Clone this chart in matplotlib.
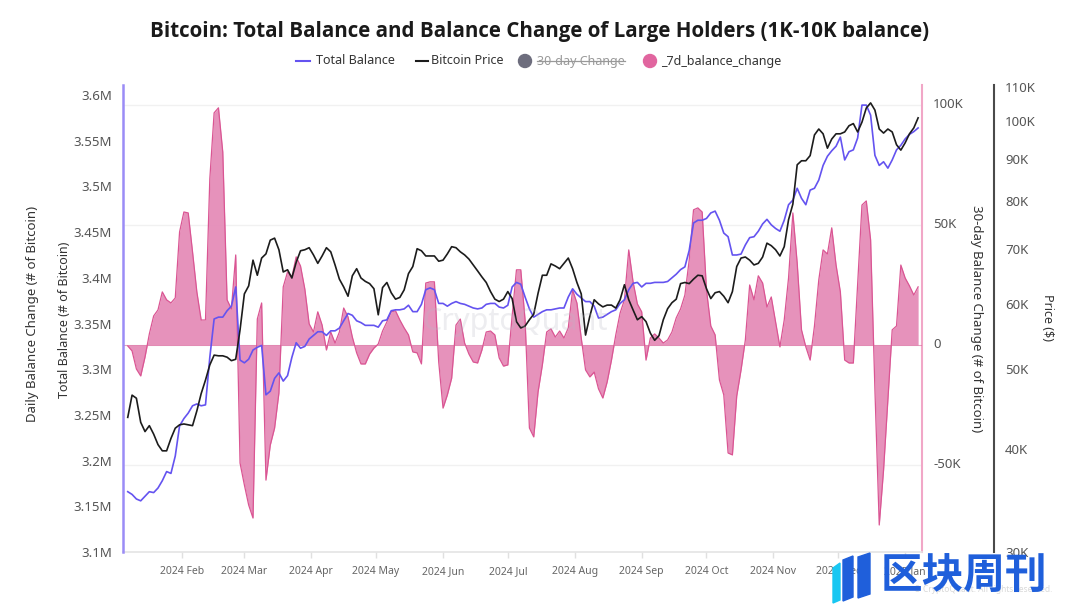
import matplotlib
matplotlib.use('Agg')
import matplotlib.pyplot as plt
import matplotlib.ticker as mticker
from matplotlib.lines import Line2D
from matplotlib.patches import Circle, Polygon
from matplotlib.transforms import IdentityTransform
import numpy as np
import pandas as pd

plt.rcParams['font.family'] = ['Noto Sans', 'DejaVu Sans']

# ---------------- data (one value every 2 days) ----------------
start_date = '2024-01-07'
step = '2D'

price_k = [
    43.7, 46.5, 46.1, 43.1, 42.0, 42.7, 41.7, 40.5, 39.8, 39.8,
    41.2, 42.4, 42.8, 42.9, 42.8, 42.7, 44.5, 46.7, 48.5, 50.6,
    52.0, 51.9, 51.9, 51.7, 51.2, 51.4, 55.8, 61.7, 63.1, 67.8,
    65.0, 68.2, 69.0, 71.7, 72.1, 69.8, 65.6, 66.0, 64.5, 67.4,
    69.6, 69.8, 70.2, 68.8, 67.2, 68.6, 70.2, 69.4, 66.9, 64.3,
    62.9, 61.3, 64.9, 66.2, 64.5, 63.9, 63.5, 62.6, 58.2, 62.8,
    63.7, 61.9, 60.8, 61.1, 62.4, 65.3, 66.6, 70.0, 69.6, 68.6,
    68.6, 68.6, 67.6, 67.8, 69.0, 70.4, 70.2, 69.4, 68.8, 68.0,
    66.9, 65.8, 64.7, 63.7, 62.1, 60.8, 60.4, 60.8, 62.1, 60.9,
    57.1, 56.1, 56.4, 57.4, 58.3, 61.8, 65.0, 65.0, 67.1, 66.7,
    66.2, 67.2, 68.2, 66.2, 63.7, 61.7, 55.0, 58.0, 60.7, 60.0,
    59.5, 59.8, 59.8, 59.3, 60.7, 63.3, 60.7, 59.0, 57.4, 57.9,
    57.1, 55.3, 54.2, 54.9, 57.4, 59.2, 60.2, 60.8, 63.5, 63.7,
    63.5, 64.3, 65.0, 64.9, 62.6, 60.9, 61.9, 62.1, 61.3, 60.2,
    62.1, 66.6, 68.2, 68.4, 67.8, 66.9, 67.2, 68.4, 71.1, 70.6,
    69.8, 68.6, 70.4, 75.9, 79.3, 88.5, 89.5, 89.5, 90.8, 96.2,
    97.8, 96.5, 92.7, 95.1, 96.5, 96.5, 97.0, 98.7, 99.3, 97.0,
    99.7, 103.7, 105.2, 103.1, 97.8, 96.7, 97.8, 97.0, 93.6, 92.2,
    94.1, 96.5, 98.1, 100.9,
]

balance_m = [
    3.166, 3.163, 3.158, 3.156, 3.161, 3.166, 3.165, 3.170, 3.178, 3.188,
    3.186, 3.205, 3.238, 3.246, 3.252, 3.260, 3.262, 3.260, 3.261, 3.313,
    3.355, 3.357, 3.357, 3.364, 3.369, 3.390, 3.310, 3.307, 3.311, 3.321,
    3.324, 3.326, 3.272, 3.276, 3.290, 3.296, 3.287, 3.293, 3.313, 3.329,
    3.323, 3.325, 3.333, 3.337, 3.341, 3.341, 3.337, 3.342, 3.342, 3.345,
    3.353, 3.361, 3.359, 3.353, 3.351, 3.348, 3.348, 3.348, 3.346, 3.353,
    3.354, 3.364, 3.365, 3.365, 3.366, 3.370, 3.363, 3.363, 3.371, 3.387,
    3.389, 3.387, 3.372, 3.372, 3.369, 3.372, 3.374, 3.372, 3.371, 3.369,
    3.367, 3.366, 3.367, 3.371, 3.372, 3.372, 3.368, 3.367, 3.370, 3.390,
    3.395, 3.393, 3.379, 3.366, 3.357, 3.360, 3.363, 3.365, 3.365, 3.366,
    3.367, 3.367, 3.379, 3.388, 3.382, 3.378, 3.374, 3.374, 3.369, 3.356,
    3.357, 3.360, 3.363, 3.365, 3.372, 3.376, 3.387, 3.394, 3.395, 3.390,
    3.394, 3.394, 3.395, 3.395, 3.395, 3.396, 3.400, 3.404, 3.409, 3.412,
    3.430, 3.460, 3.463, 3.463, 3.465, 3.471, 3.473, 3.463, 3.449, 3.445,
    3.425, 3.425, 3.426, 3.436, 3.444, 3.445, 3.451, 3.459, 3.464, 3.458,
    3.454, 3.451, 3.463, 3.480, 3.485, 3.498, 3.487, 3.480, 3.496, 3.498,
    3.507, 3.523, 3.533, 3.539, 3.544, 3.554, 3.529, 3.538, 3.540, 3.553,
    3.589, 3.589, 3.578, 3.534, 3.523, 3.527, 3.520, 3.529, 3.540, 3.545,
    3.552, 3.557, 3.560, 3.564,
]

change_k = [
    -0.4, -2.5, -10.0, -12.9, -5.0, 4.6, 12.1, 14.6, 22.1, 18.8,
    17.5, 19.6, 47.1, 55.4, 55.0, 38.8, 22.1, 10.4, 10.4, 69.2,
    96.7, 98.8, 80.4, 18.8, 15.0, 37.5, -49.2, -58.3, -66.7, -72.1,
    10.8, 17.5, -56.3, -41.7, -34.6, -20.0, 24.2, 30.4, 28.3, 36.7,
    32.9, 23.3, 8.8, 5.4, 13.8, 8.3, -2.1, 5.4, 0.8, 5.4,
    15.4, 11.7, 3.3, -3.3, -7.9, -7.9, -3.8, -1.3, 0.4, 5.8,
    9.6, 13.8, 14.2, 10.4, 7.1, 4.2, -2.9, -3.3, -7.9, 25.8,
    26.3, 26.3, -7.1, -26.3, -20.8, -13.8, 8.3, 10.8, 0.8, -3.8,
    -7.1, -7.5, -2.1, 5.4, 5.8, 4.2, -5.4, -8.8, -8.3, 12.1,
    31.3, 31.3, 10.4, -34.6, -38.3, -19.6, -8.3, 5.4, 6.7, 3.3,
    5.8, 2.9, 7.1, 22.9, 17.5, 2.9, -10.4, -13.3, -11.3, -18.3,
    -22.1, -15.4, -6.3, 4.2, 13.3, 18.8, 39.6, 26.3, 17.1, 13.8,
    -6.3, 2.9, 4.6, 2.9, 0.8, 2.1, 5.4, 11.3, 15.0, 20.8,
    35.4, 56.3, 57.1, 55.4, 22.9, 7.9, 4.2, -14.6, -20.8, -45.0,
    -45.8, -21.3, -10.4, 2.1, 25.0, 18.8, 28.8, 25.8, 15.8, 20.0,
    9.6, -0.8, 10.4, 27.9, 55.0, 34.2, 6.3, -0.8, -6.3, 7.9,
    27.1, 39.6, 37.9, 48.8, 33.3, 22.1, -6.3, -7.5, -7.5, 25.0,
    58.3, 60.0, 43.8, -18.8, -75.0, -52.1, -22.9, 6.3, 7.9, 33.3,
    27.9, 24.6, 20.8, 24.2,
]

month_ticks = ['2024-02-01', '2024-03-01', '2024-04-01', '2024-05-01', '2024-06-01',
               '2024-07-01', '2024-08-01', '2024-09-01', '2024-10-01', '2024-11-01',
               '2024-12-01', '2025-01-01']
month_labels = ['2024 Feb', '2024 Mar', '2024 Apr', '2024 May', '2024 Jun', '2024 Jul',
                '2024 Aug', '2024 Sep', '2024 Oct', '2024 Nov', '2024 Dec', '2025 Jan']
balance_ticks = [3.1, 3.15, 3.2, 3.25, 3.3, 3.35, 3.4, 3.45, 3.5, 3.55, 3.6]
change_ticks = [-50, 0, 50, 100]
price_ticks = [30, 40, 50, 60, 70, 80, 90, 100, 110]

title = 'Bitcoin: Total Balance and Balance Change of Large Holders (1K-10K balance)'
legend_names = ['Total Balance', 'Bitcoin Price', '30-day Change', '_7d_balance_change']

# ---------------- styling ----------------
C_BAL = '#6453f0'
C_BAL_SPINE = '#9b8cf6'
C_PRICE = '#1c1c1c'
C_FILL = '#e58cb8'
C_EDGE = '#da5593'
C_CHG_SPINE = '#f1a7c7'
C_TXT = '#555555'

W, H = 1080, 608
fig = plt.figure(figsize=(W / 100, H / 100), dpi=100)


def fx(px):
    return px / W


def fy(py):
    return 1 - py / H


dates = pd.date_range(start_date, periods=len(price_k), freq=step)

ax = fig.add_axes([fx(123), fy(552), fx(922) - fx(123), fy(85) - fy(552)])
ax_bal = ax.twinx()
ax_price = ax.twinx()

xmin = dates[0] - pd.Timedelta(days=2.2)
xmax = dates[-1] + pd.Timedelta(days=1.8)
for a in (ax, ax_bal, ax_price):
    a.set_xlim(xmin, xmax)
    a.patch.set_visible(False)
    a.spines['top'].set_visible(False)

# --- 7d balance change (host axis, right spine) ---
chg = np.array(change_k)
ax.fill_between(dates, 0, chg, color=C_FILL, alpha=0.95, linewidth=0, interpolate=True, zorder=2)
ax.plot(dates, chg, color=C_EDGE, lw=0.9, zorder=3)
ax.axhline(0, color=C_EDGE, lw=0.6, alpha=0.6, zorder=3)
ax.set_ylim(-86.25, 108.3)
ax.set_yticks(change_ticks)
ax.yaxis.set_major_formatter(mticker.FuncFormatter(lambda v, p: '0' if v == 0 else f'{v:g}K'))
ax.yaxis.tick_right()
ax.grid(axis='y', color='#f1f1f1', lw=1.0, zorder=0)
ax.set_axisbelow(True)
ax.spines['left'].set_visible(False)
ax.spines['right'].set_color(C_CHG_SPINE)
ax.spines['right'].set_linewidth(1.5)
ax.spines['bottom'].set_color('#e4e4e4')
ax.spines['bottom'].set_linewidth(1.2)
ax.tick_params(axis='y', length=0, pad=8, labelsize=9.5, labelcolor=C_TXT)
for lab in ax.get_yticklabels():
    lab.set_verticalalignment('center')

ax.set_xticks(pd.to_datetime(month_ticks))
ax.set_xticklabels(month_labels)
ax.tick_params(axis='x', length=4, width=1, color='#e0e0e0', pad=6, labelsize=7.5,
               labelcolor='#666666')

# --- total balance (left spine) ---
ax_bal.plot(dates, balance_m, color=C_BAL, lw=1.2, zorder=4)
ax_bal.set_ylim(3.1, 3.611)
ax_bal.set_yticks(balance_ticks)
ax_bal.yaxis.set_major_formatter(mticker.FuncFormatter(lambda v, p: f'{v:g}M'))
ax_bal.yaxis.tick_left()
ax_bal.spines['right'].set_visible(False)
ax_bal.spines['bottom'].set_visible(False)
ax_bal.spines['left'].set_visible(True)
ax_bal.spines['left'].set_color(C_BAL_SPINE)
ax_bal.spines['left'].set_linewidth(1.8)
ax_bal.tick_params(axis='y', length=0, pad=8, labelsize=9.5, labelcolor=C_TXT)
ax_bal.tick_params(axis='x', bottom=False, labelbottom=False)

# --- bitcoin price (outer right spine, log scale) ---
ax_price.plot(dates, price_k, color=C_PRICE, lw=1.2, zorder=5)
ax_price.set_yscale('log')
ax_price.set_ylim(30, 110.6)
ax_price.yaxis.set_major_locator(mticker.FixedLocator(price_ticks))
ax_price.yaxis.set_minor_locator(mticker.NullLocator())
ax_price.yaxis.set_major_formatter(mticker.FuncFormatter(lambda v, p: f'{v:g}K'))
ax_price.spines['right'].set_position(('axes', (994 - 123) / (922 - 123)))
ax_price.spines['right'].set_color('#4a4a4a')
ax_price.spines['right'].set_linewidth(1.5)
ax_price.spines['bottom'].set_visible(False)
ax_price.spines['left'].set_visible(False)
ax_price.tick_params(axis='y', which='both', length=0, pad=8, labelsize=9.5, labelcolor=C_TXT)
ax_price.tick_params(axis='x', bottom=False, labelbottom=False)

# ---------------- axis titles ----------------
lab_kw = dict(ha='center', va='center', color='#333333')
fig.text(fx(33), fy(314), 'Daily Balance Change (# of Bitcoin)', rotation=90, fontsize=9.5, **lab_kw)
fig.text(fx(65), fy(320), 'Total Balance (# of Bitcoin)', rotation=90, fontsize=9, **lab_kw)
fig.text(fx(977), fy(319), '30-day Balance Change (# of Bitcoin)', rotation=270, fontsize=9.5, **lab_kw)
fig.text(fx(1047), fy(318), 'Price ($)', rotation=270, fontsize=9, **lab_kw)

# ---------------- title ----------------
fig.text(fx(540), fy(31), title, ha='center', va='center', fontsize=14.8,
         fontweight='bold', color='#1a1a1a', family=['Open Sans', 'DejaVu Sans'])

# ---------------- legend ----------------
ly = H - 61
idt = IdentityTransform()
fig.add_artist(Line2D([296, 310], [ly, ly], color=C_BAL, lw=1.5, transform=idt))
fig.text(fx(316), fy(61), legend_names[0], ha='left', va='center', fontsize=9, color='#333333')
fig.add_artist(Line2D([416, 428], [ly, ly], color=C_PRICE, lw=1.5, transform=idt))
fig.text(fx(431), fy(61), legend_names[1], ha='left', va='center', fontsize=9, color='#333333')
fig.add_artist(Circle((525, ly), 6.5, color='#6d6d7d', transform=idt))
t3 = fig.text(fx(537), fy(61), legend_names[2], ha='left', va='center', fontsize=9, color='#999999')
fig.add_artist(Circle((650, ly), 6.5, color='#e1659f', transform=idt))
fig.text(fx(661), fy(61), legend_names[3], ha='left', va='center', fontsize=9, color='#333333')

fig.canvas.draw()
bb = t3.get_window_extent()
ymid = (bb.y0 + bb.y1) / 2 + 0.5
fig.add_artist(Line2D([bb.x0, bb.x1], [ymid, ymid], color='#999999', lw=0.9, transform=idt))

# ---------------- watermarks ----------------
fig.text(fx(515), fy(322), 'CryptoQuant', ha='center', va='center', fontsize=22,
         color='#b8b8c4', alpha=0.25, zorder=10)
fig.text(fx(1052), fy(590), '© CryptoQuant. All rights reserved.', ha='right', va='center',
         fontsize=6, color='#c8c8c8', alpha=0.7)

# 区块周刊 logo
logo_blue = '#1f5fdb'
logo_cyan = '#18c7f2'
fig.add_artist(Polygon([[833, H - 568], [840, H - 563], [840, H - 600], [833, H - 603]],
                       closed=True, color=logo_cyan, transform=idt, zorder=20))
fig.add_artist(Polygon([[843, H - 560], [853, H - 556], [853, H - 597], [843, H - 601]],
                       closed=True, color=logo_blue, transform=idt, zorder=20))
fig.add_artist(Polygon([[858, H - 557], [870, H - 553], [870, H - 594], [858, H - 598]],
                       closed=True, color=logo_blue, transform=idt, zorder=20))
fig.text(fx(881), fy(577), '区块周刊', ha='left', va='center', fontsize=30, fontweight='bold',
         color=logo_blue, family=['Noto Sans CJK SC', 'DejaVu Sans'], zorder=20)

fig.savefig('out.png', dpi=100)
